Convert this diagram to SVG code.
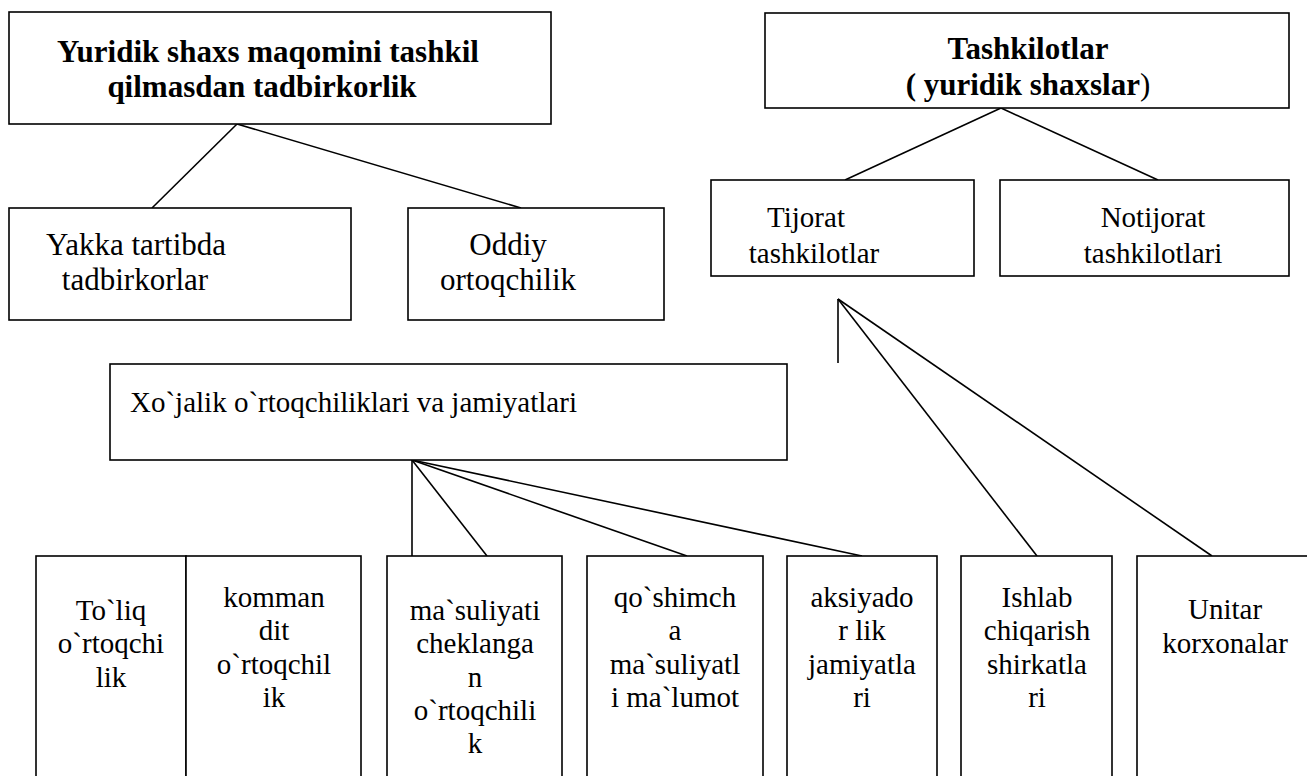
<svg xmlns="http://www.w3.org/2000/svg" width="1307" height="776" viewBox="0 0 1307 776">
<style>
.box{fill:#fff;stroke:#000;stroke-width:1.6}
.ln{stroke:#000;stroke-width:1.6;fill:none}
text{font-family:"Liberation Serif","Times New Roman",serif;fill:#000}
.b{font-weight:bold;font-size:31px}
.r{font-size:31px}
.s{font-size:29px}
.m{text-anchor:middle}
</style>
<rect width="1307" height="776" fill="#fff"/>
<g id="connectors">
<line class="ln" x1="237" y1="124" x2="152" y2="208"/>
<line class="ln" x1="237" y1="124" x2="521" y2="208"/>
<line class="ln" x1="1001" y1="108" x2="845" y2="180"/>
<line class="ln" x1="1001" y1="108" x2="1158" y2="180"/>
<line class="ln" x1="838" y1="299" x2="838" y2="363"/>
<line class="ln" x1="838" y1="299" x2="1037" y2="556"/>
<line class="ln" x1="838" y1="299" x2="1212" y2="556"/>
<line class="ln" x1="412" y1="460" x2="412" y2="556"/>
<line class="ln" x1="412" y1="460" x2="487" y2="556"/>
<line class="ln" x1="412" y1="460" x2="687" y2="556"/>
<line class="ln" x1="412" y1="460" x2="862" y2="556"/>
</g>
<g id="n-yuridik-emas">
<rect class="box" x="9" y="12" width="542" height="112"/>
<text class="b m" x="268" y="62">Yuridik shaxs maqomini tashkil</text>
<text class="b m" x="262" y="97">qilmasdan tadbirkorlik</text>
</g>
<g id="n-tashkilotlar">
<rect class="box" x="765" y="13" width="524" height="95"/>
<text class="b m" x="1028" y="59">Tashkilotlar</text>
<text class="b m" x="1028" y="95">( yuridik shaxslar<tspan font-weight="normal">)</tspan></text>
</g>
<g id="n-yakka">
<rect class="box" x="9" y="208" width="342" height="112"/>
<text class="r m" x="136" y="255">Yakka tartibda</text>
<text class="r m" x="135" y="290">tadbirkorlar</text>
</g>
<g id="n-oddiy">
<rect class="box" x="408" y="208" width="256" height="112"/>
<text class="r m" x="508" y="255">Oddiy</text>
<text class="r m" x="508" y="290">ortoqchilik</text>
</g>
<g id="n-tijorat">
<rect class="box" x="711" y="180" width="263" height="96"/>
<text class="s m" x="806" y="227">Tijorat</text>
<text class="s m" x="814" y="263">tashkilotlar</text>
</g>
<g id="n-notijorat">
<rect class="box" x="1000" y="180" width="289" height="96"/>
<text class="s m" x="1153" y="227">Notijorat</text>
<text class="s m" x="1153" y="263">tashkilotlari</text>
</g>
<g id="n-xojalik">
<rect class="box" x="110" y="364" width="677" height="96"/>
<text class="s" x="130" y="412">Xo`jalik o`rtoqchiliklari va jamiyatlari</text>
</g>
<g id="n-toliq">
<rect class="box" x="36" y="556" width="150" height="240"/>
<text class="s m" x="111" y="620">To`liq</text>
<text class="s m" x="111" y="653">o`rtoqchi</text>
<text class="s m" x="111" y="687">lik</text>
</g>
<g id="n-kommandit">
<rect class="box" x="186" y="556" width="175" height="240"/>
<text class="s m" x="274" y="607">komman</text>
<text class="s m" x="274" y="640">dit</text>
<text class="s m" x="274" y="674">o`rtoqchil</text>
<text class="s m" x="274" y="707">ik</text>
</g>
<g id="n-masuliyati">
<rect class="box" x="387" y="556" width="175" height="240"/>
<text class="s m" x="475" y="620">ma`suliyati</text>
<text class="s m" x="475" y="653">cheklanga</text>
<text class="s m" x="475" y="687">n</text>
<text class="s m" x="475" y="720">o`rtoqchili</text>
<text class="s m" x="475" y="753">k</text>
</g>
<g id="n-qoshimcha">
<rect class="box" x="587" y="556" width="176" height="240"/>
<text class="s m" x="675" y="607">qo`shimch</text>
<text class="s m" x="675" y="640">a</text>
<text class="s m" x="675" y="674">ma`suliyatl</text>
<text class="s m" x="675" y="707">i ma`lumot</text>
</g>
<g id="n-aksiyadorlik">
<rect class="box" x="787" y="556" width="150" height="240"/>
<text class="s m" x="862" y="607">aksiyado</text>
<text class="s m" x="862" y="640">r lik</text>
<text class="s m" x="862" y="674">jamiyatla</text>
<text class="s m" x="862" y="707">ri</text>
</g>
<g id="n-ishlab">
<rect class="box" x="961" y="556" width="151" height="240"/>
<text class="s m" x="1037" y="607">Ishlab</text>
<text class="s m" x="1037" y="640">chiqarish</text>
<text class="s m" x="1037" y="674">shirkatla</text>
<text class="s m" x="1037" y="707">ri</text>
</g>
<g id="n-unitar">
<rect class="box" x="1137" y="556" width="190" height="240"/>
<text class="s m" x="1225" y="619">Unitar</text>
<text class="s m" x="1225" y="653">korxonalar</text>
</g>
</svg>
